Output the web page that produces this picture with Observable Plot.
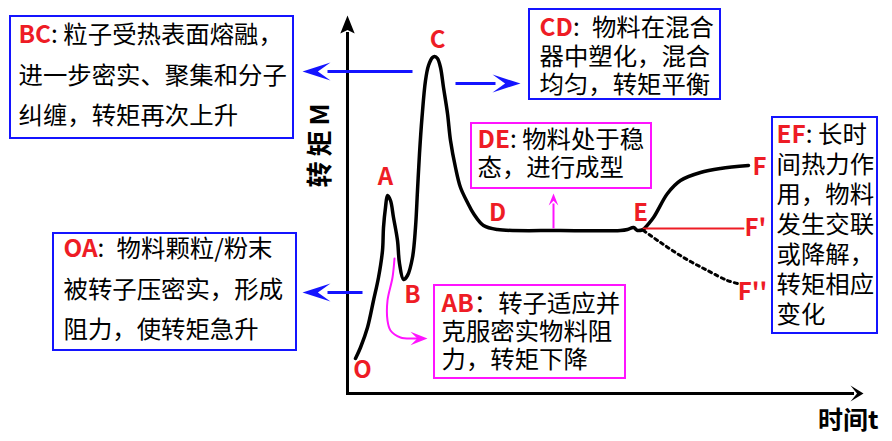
<!DOCTYPE html>
<html><head><meta charset="utf-8">
<script src="https://cdn.jsdelivr.net/npm/d3@7"></script>
<script src="https://cdn.jsdelivr.net/npm/@observablehq/plot@0.6"></script>
<style>html,body{margin:0;padding:0;background:#fff;overflow:hidden}</style>
</head><body><div id="chart"></div>
<script>
// ---------- DATA (time t, torque M in arbitrary units) ----------
const curveOE = [[1.6,8.75],[2.6,11.5],[4,16.5],[5.2,23.25],[6.2,29],[7,35.75],[7.2,41.5],[7.6,46.5],[8,49.5],[8.6,48.25],[9.2,44],[10,38.25],[10.4,32.5],[11.2,28.5],[12,29.5],[13,34],[13.6,41.5],[14,50.75],[14.4,60],[14.9,69],[15.6,78.25],[16.2,82],[17,84],[17.4,84.25],[18,83.75],[18.6,81.5],[19.2,76.5],[20,70],[20.6,63.25],[21.6,56.5],[22.6,51.5],[24,47.75],[25.2,45],[27.2,42],[30,41],[42.6,40.75],[54.6,40.75],[56,41],[57.2,41.5],[58,40.75],[59.2,41]];
const curveEF = [[59.2,41],[61.2,44],[64,50],[66.6,53.25],[70.6,55.25],[74.6,56.25],[80.2,57]];
const curveEF1 = [[59.2,41.25],[79.2,41.25]];
const curveEF2 = [[59.2,40.75],[62.6,37.75],[67.2,34],[72,30.75],[76,28.25],[78,27.5]];

const pointNames = ["O","A","B","C","D","E","F","F'","F''"];
const pointT = [3, 7.6, 13, 18, 30, 58.6, 82.4, 81.6, 81];
const pointM = [5.75, 54, 24.5, 88.25, 45, 45, 56.5, 41.25, 25.25];

const axisTitleX = "时间t";
const axisTitleY = "转矩M";

const boxKeys = ["BC","CD","DE","EF","OA","AB"];
const boxSeps = [": ", ":\u2002", ": ", ": ", ":\u2002", "："];
const bcLines = ["粒子受热表面熔融，","进一步密实、聚集和分子","纠缠，转矩再次上升"];
const cdLines = ["物料在混合","器中塑化，混合","均匀，转矩平衡"];
const deLines = ["物料处于稳","态，进行成型"];
const efLines = ["长时","间热力作","用，物料","发生交联","或降解，","转矩相应","变化"];
const oaLines = ["物料颗粒/粉末","被转子压密实，形成","阻力，使转矩急升"];
const abLines = ["转子适应并","克服密实物料阻","力，转矩下降"];
const boxTexts = [bcLines, cdLines, deLines, efLines, oaLines, abLines];

// ---------- LAYOUT (annotation placement, in data units) ----------
const boxX1 = [-67.4, 36.4, 24.8, 85, -58.8, 17.4];
const boxX2 = [-10.8, 74.6, 60.8, 106, -10.2, 55.6];
const boxY1 = [63.75, 73.5, 51.25, 15, 10.75, 3.75];
const boxY2 = [94.25, 96, 67.5, 69, 40, 27];
const boxStroke = ["#1414ff","#1414ff","#ff14ff","#1414ff","#1414ff","#ff14ff"];
const textX = [-65.8, 38.4, 26, 85.8, -56.8, 18.8];
const textY0 = [89.5, 91.25, 63.25, 64.5, 36, 22.25];
const lineStep = [10.125, 7.125, 7, 7.5, 10.125, 7];

// arrows: shaft [x1,y1,x2,y2], tip [x,y,rotation]
const blueShafts = [[13,80.5,-4,80.5],[21.6,77.5,29.6,77.5],[3,25.25,-4,25.25]];
const blueTips = [[-9,80.5,-90],[34.6,77.5,90],[-9,25.25,-90]];
const pinkUp = [[41.2,41.25,41.2,47.5]];
const pinkUpTip = [[41.2,50,0]];
const pinkCurve = [[9.4,33.75],[9,29],[8,23.25],[8,18.25],[8.6,15.75],[10.6,14],[13.2,13.75],[14,13.75]];
const pinkCurveTip = [[16,13.75,90]];
const axisShafts = [[0,0,0,90],[0,0,101,0]];

const RED = "#ee1c25";
const FONT = "'Noto Sans CJK SC', 'Noto Sans', sans-serif";
const FS = 24.4;

function stealth(wr, notch) {
  return {draw(ctx, size) {
    const L = Math.sqrt(size / Math.PI), w = L * wr;
    ctx.moveTo(0, 0); ctx.lineTo(w, L); ctx.lineTo(0, L * notch); ctx.lineTo(-w, L); ctx.closePath();
  }};
}

const cnv = document.createElement("canvas").getContext("2d");
function measure(s, font) { cnv.font = font; return cnv.measureText(s).width; }

const marks = [];
// axes
marks.push(Plot.link(axisShafts, {x1: d=>d[0], y1: d=>d[1], x2: d=>d[2], y2: d=>d[3], stroke: "black", strokeWidth: 3, strokeLinecap: "square"}));
marks.push(Plot.dot([[0,94.5]], {x: d=>d[0], y: d=>d[1], symbol: stealth(0.4, 0.8), r: 18, fill: "black", stroke: "none"}));
marks.push(Plot.dot([[103.2,0]], {x: d=>d[0], y: d=>d[1], symbol: stealth(0.62, 0.5), r: 13, fill: "black", stroke: "none", rotate: 90}));

// curves
marks.push(Plot.line(curveOE, {x: d=>d[0], y: d=>d[1], stroke: "black", strokeWidth: 3.5, curve: "catmull-rom", strokeLinejoin: "round"}));
marks.push(Plot.line(curveEF, {x: d=>d[0], y: d=>d[1], stroke: "black", strokeWidth: 3.5, curve: "catmull-rom"}));
marks.push(Plot.line(curveEF1, {x: d=>d[0], y: d=>d[1], stroke: RED, strokeWidth: 1.8}));
marks.push(Plot.line(curveEF2, {x: d=>d[0], y: d=>d[1], stroke: "black", strokeWidth: 3, strokeDasharray: "3,4", curve: "catmull-rom"}));

// arrows
marks.push(Plot.link(blueShafts, {x1: d=>d[0], y1: d=>d[1], x2: d=>d[2], y2: d=>d[3], stroke: "#1414ff", strokeWidth: 3}));
marks.push(Plot.dot(blueTips, {x: d=>d[0], y: d=>d[1], rotate: d=>d[2], symbol: stealth(0.32, 0.55), r: 28, fill: "#1414ff", stroke: "none"}));
marks.push(Plot.link(pinkUp, {x1: d=>d[0], y1: d=>d[1], x2: d=>d[2], y2: d=>d[3], stroke: "#ff14ff", strokeWidth: 2}));
marks.push(Plot.dot(pinkUpTip, {x: d=>d[0], y: d=>d[1], rotate: d=>d[2], symbol: stealth(0.4, 0.6), r: 12, fill: "#ff14ff", stroke: "none"}));
marks.push(Plot.line(pinkCurve, {x: d=>d[0], y: d=>d[1], stroke: "#ff14ff", strokeWidth: 2, curve: "catmull-rom"}));
marks.push(Plot.dot(pinkCurveTip, {x: d=>d[0], y: d=>d[1], rotate: d=>d[2], symbol: stealth(0.4, 0.6), r: 17, fill: "#ff14ff", stroke: "none"}));

// point labels
marks.push(Plot.text(pointNames, {x: (d,i)=>pointT[i], y: (d,i)=>pointM[i], text: d=>d, fill: RED, fontWeight: "bold", fontSize: 24, fontFamily: FONT, textAnchor: "middle", lineAnchor: "middle"}));

// axis titles
marks.push(Plot.text([axisTitleX], {x: 106.2, y: -6.75, text: d=>d, fill: "black", fontWeight: "bold", fontSize: 25, fontFamily: FONT, textAnchor: "end", lineAnchor: "middle"}));
marks.push(Plot.text([axisTitleY], {x: -5.4, y: 62, text: d=>d, fill: "black", fontWeight: "bold", fontSize: 26, fontFamily: FONT, textAnchor: "middle", lineAnchor: "middle", rotate: -90}));

// boxes
const boxIdx = boxKeys.map((k,i)=>i);
marks.push(Plot.rect(boxIdx, {x1: i=>boxX1[i], x2: i=>boxX2[i], y1: i=>boxY1[i], y2: i=>boxY2[i], fill: "none", stroke: i=>boxStroke[i], strokeWidth: 2}));

const restRows = [];
boxTexts.forEach((lines, b) => lines.forEach((s, i) => { if (i > 0) restRows.push({x: textX[b], y: textY0[b] - i * lineStep[b], text: s}); }));
marks.push(Plot.text(restRows, {x: "x", y: "y", text: "text", fill: "black", fontSize: FS, fontFamily: FONT, textAnchor: "start", lineAnchor: "middle"}));

boxKeys.forEach((k, b) => {
  marks.push(Plot.text([k], {x: textX[b], y: textY0[b], text: d=>d, fill: RED, fontWeight: "bold", fontSize: FS, fontFamily: FONT, textAnchor: "start", lineAnchor: "middle"}));
  const w = measure(k, `bold ${FS}px ${FONT}`);
  marks.push(Plot.text([boxSeps[b] + boxTexts[b][0]], {x: textX[b], y: textY0[b], dx: w, text: d=>d, fill: "black", fontSize: FS, fontFamily: FONT, textAnchor: "start", lineAnchor: "middle"}));
});

const chart = Plot.plot({
  width: 892, height: 441, margin: 0,
  x: {domain: [-69.4, 109], axis: null},
  y: {domain: [-12, 98.25], axis: null},
  style: {fontFamily: FONT, background: "white"},
  marks
});
// widen the rotated y-axis title a little, as in the reference
d3.select(chart).selectAll("text").filter(function() { return this.textContent === axisTitleY; })
  .attr("letter-spacing", "5px").attr("dx", "2.5px");
document.getElementById("chart").append(chart);
</script>
</body></html>
